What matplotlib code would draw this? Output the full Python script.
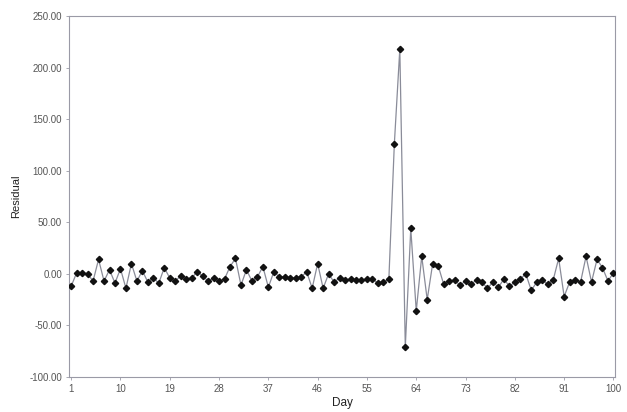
import matplotlib
matplotlib.use('Agg')
import matplotlib.pyplot as plt
import numpy as np

plt.rcParams['font.family'] = ['Liberation Sans', 'DejaVu Sans']

# residuals, days 1..100
days = np.arange(1, 101)
residual = [
    -12, 1, 1, 0, -7, 14, -7, 4, -9, 5,
    -14, 10, -7, 3, -8, -4, -9, 6, -4, -7,
    -2, -5, -4, 2, -2, -7, -4, -7, -5, 7,
    15, -11, 4, -7, -3, 7, -13, 2, -3, -3,
    -4, -4, -3, 2, -14, 10, -14, 0, -8, -4,
    -6, -5, -6, -6, -5, -5, -9, -8, -5, 126,
    218, -71, 44, -36, 17, -25, 10, 8, -10, -7,
    -6, -11, -7, -10, -6, -8, -14, -8, -13, -5,
    -12, -8, -5, 0, -16, -8, -6, -10, -6, 15,
    -22, -8, -6, -8, 17, -8, 14, 6, -7, 1,
]
x_ticks = list(range(1, 101, 9))
y_ticks = [-100, -50, 0, 50, 100, 150, 200, 250]

fig = plt.figure(figsize=(6.27, 4.12), dpi=100)
ax = fig.add_axes([0.110, 0.085, 0.871, 0.876])

ax.plot(days, residual, color='#8a8c99', linewidth=0.9,
        marker='D', markersize=3.2, markerfacecolor='#111111',
        markeredgecolor='#111111', zorder=3)

ax.set_xlim(0.6, 100.3)
ax.set_ylim(-100, 250)
ax.set_xticks(x_ticks)
ax.set_yticks(y_ticks)
ax.set_yticklabels([f'{v:.2f}' for v in y_ticks])

for s in ax.spines.values():
    s.set_color('#9a9aa6')
    s.set_linewidth(0.8)

ax.tick_params(axis='both', length=2, width=0.6, color='#9a9aa6',
               labelsize=7, labelcolor='#555555', pad=3)

ax.set_ylabel('Residual', fontsize=8, color='#222222', labelpad=6)
ax.set_xlabel('Day', fontsize=8.5, color='#222222', labelpad=2)

fig.savefig('out.png', dpi=100)
